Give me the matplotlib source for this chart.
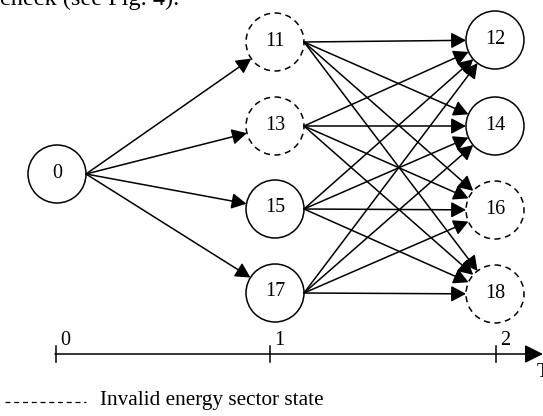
#!/usr/bin/env python3
"""State-transition diagram: start state 0, stage-1 states, stage-2 states, time axis T."""
import matplotlib
matplotlib.use("Agg")
import matplotlib.pyplot as plt
from matplotlib.patches import Circle, FancyArrowPatch

plt.rcParams.update({"font.family": "serif", "font.serif": ["Liberation Serif", "DejaVu Serif"]})
INK = "#000000"

# states per stage and whether each is a valid energy sector state
STAGE0 = ["0"]
STAGE1 = ["11", "13", "15", "17"]
STAGE2 = ["12", "14", "16", "18"]
INVALID = {"11", "13", "16", "18"}
TICKS = ["0", "1", "2"]

# layout (pixel coords, y down)
POS = {"0": (57, 174)}
for lbl, y in zip(STAGE1, [42, 126, 209, 293]):
    POS[lbl] = (275, y)
for lbl, y in zip(STAGE2, [40, 126, 210, 294]):
    POS[lbl] = (495, y)
R = 29

fig = plt.figure(figsize=(5.43, 4.16), dpi=100)
ax = fig.add_axes([0, 0, 1, 1])
ax.set_xlim(0, 543); ax.set_ylim(416, 0); ax.axis("off")

for lbl, (x, y) in POS.items():
    ls = (0, (4, 3)) if lbl in INVALID else "-"
    ax.add_patch(Circle((x, y), R, fill=False, lw=1.1, ls=ls, ec=INK))
    ax.text(x, y - 1, lbl, ha="center", va="center", fontsize=14.5)


def edge(a, b):
    (x0, y0), (cx, cy) = POS[a], POS[b]
    sx, sy = x0 + R, y0
    dx, dy = cx - sx, cy - sy
    d = (dx ** 2 + dy ** 2) ** 0.5
    ex, ey = cx - R * dx / d, cy - R * dy / d
    ax.add_patch(FancyArrowPatch((sx, sy), (ex, ey), arrowstyle="-|>,head_length=6,head_width=3.2",
                                 mutation_scale=1.5, lw=1.1, color=INK, shrinkA=0, shrinkB=0))


for a in STAGE0:
    for b in STAGE1:
        edge(a, b)
for a in STAGE1:
    for b in STAGE2:
        edge(a, b)

# time axis
AX_Y = 354
ax.add_patch(FancyArrowPatch((55, AX_Y), (543, AX_Y), arrowstyle="-|>,head_length=7,head_width=3.5",
                             mutation_scale=1.6, lw=1.1, color=INK, shrinkA=0, shrinkB=0))
for t, tx in zip(TICKS, [56, 270, 496]):
    ax.plot([tx, tx], [AX_Y - 8, AX_Y + 8], color=INK, lw=1.1)
    ax.text(tx + 4, AX_Y - 4, t, ha="left", va="bottom", fontsize=14.5)
ax.text(537, AX_Y + 9, "T", ha="left", va="top", fontsize=14.5)

# legend
ax.plot([5, 86], [402, 402], color=INK, lw=0.9, ls=(0, (4, 3)))
ax.text(100, 401, "Invalid energy sector state", ha="left", va="center", fontsize=15.3)

# cropped caption text at the top
ax.text(0, 5, "check (see Fig. 4).", ha="left", va="baseline", fontsize=17.5)

fig.savefig("out.png", dpi=100)
plt.close(fig)
